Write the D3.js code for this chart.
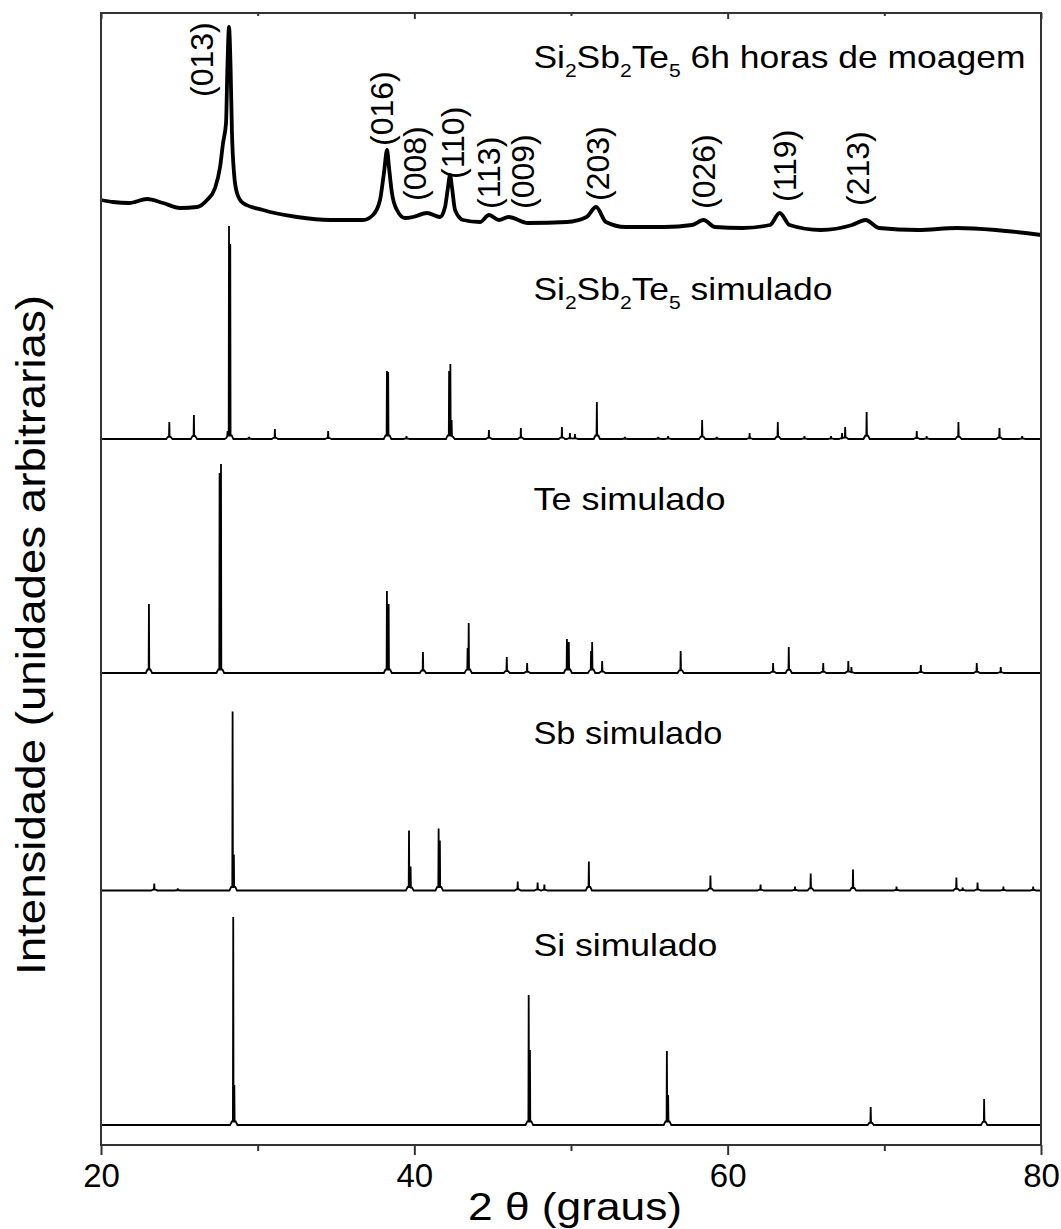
<!DOCTYPE html>
<html><head><meta charset="utf-8">
<script src="https://cdn.jsdelivr.net/npm/d3@7"></script>
<style>
body{margin:0;background:#fff}
svg{display:block}
text{font-family:"Liberation Sans",Arial,Helvetica,sans-serif;fill:#000}
</style>
</head><body>
<svg id="c" width="1061" height="1229"></svg>
<script>
// ---------------- DATA ----------------
const xTicksMajor = [20, 40, 60, 80];
const xTicksMinor = [30, 50, 70];
const xTitle = "2 \u03b8 (graus)";
const yTitle = "Intensidade (unidades arbitrarias)";

// vertical offsets of each pattern (arbitrary units)
const seriesNames = ["exp", "sstSim", "teSim", "sbSim", "siSim"];
const seriesOffsets = [87.9, 68.6, 45.2, 23.45, 0];

// experimental pattern: [2theta, intensity]
const expData = [
  [20.00,4.6],[20.77,4.4],[21.80,4.3],[22.94,4.7],[23.96,4.3],[25.04,3.8],[26.13,3.9],
  [26.77,4.6],[27.28,5.8],[27.60,7.9],[27.79,10.3],[27.98,12.3],[28.07,17.9],[28.17,21.9],
  [28.27,17.9],[28.36,11.3],[28.49,7.3],[28.68,5.3],[29.06,4.3],[30.34,3.6],[32.51,2.9],
  [34.62,2.6],[36.72,2.6],[37.36,3.1],[37.81,4.6],[38.06,7.3],[38.26,9.6],[38.38,7.9],
  [38.57,5.3],[38.89,3.6],[39.40,2.8],[39.91,2.9],[40.81,3.3],[41.64,2.9],[41.96,3.9],
  [42.15,5.9],[42.28,7.1],[42.40,5.9],[42.60,3.6],[43.11,2.6],[44.19,2.4],[44.77,3.1],
  [45.40,2.6],[46.01,2.9],[47.26,2.3],[49.74,2.4],[50.99,2.9],[51.60,3.9],[52.23,2.4],
  [53.49,1.9],[55.97,1.9],[57.72,2.1],[58.46,2.6],[59.19,1.9],[60.95,1.8],[62.70,2.1],
  [63.32,3.3],[63.95,2.1],[65.94,1.6],[67.94,2.1],[68.80,2.6],[69.66,1.8],[72.15,1.6],
  [74.64,1.8],[77.13,1.6],[80.00,1.1]
];

// simulated patterns: peaks [2theta, height]
const sstSimPeaks = [
  [24.36,1.7],[25.93,2.4],[28.08,0.8],[28.17,21.3],[28.25,19.5],[29.45,0.2],[31.10,1.0],
  [34.50,0.8],[38.25,6.8],[38.33,6.7],[39.50,0.3],[42.22,6.8],[42.30,7.5],[42.38,1.9],
  [44.76,0.9],[46.80,1.1],[49.42,1.2],[49.93,0.6],[50.25,0.5],[51.65,3.7],[53.44,0.2],
  [55.57,0.2],[56.20,0.3],[58.37,1.9],[59.30,0.2],[61.40,0.6],[63.20,1.7],[64.90,0.3],
  [66.60,0.3],[67.30,0.6],[67.50,1.2],[68.87,2.7],[72.07,0.8],[72.70,0.3],[74.73,1.7],
  [77.35,1.1],[78.80,0.3]
];
const teSimPeaks = [
  [23.06,6.9],[27.57,20.0],[27.66,20.9],[38.25,8.2],[38.36,6.9],[40.55,2.1],[43.40,2.5],
  [43.47,5.0],[45.90,1.6],[47.20,1.0],[49.74,3.4],[49.86,3.1],[51.28,2.2],[51.35,3.1],
  [51.99,1.2],[57.00,2.2],[62.90,1.0],[63.90,2.6],[66.10,1.0],[67.70,1.2],[67.90,0.6],
  [72.33,0.8],[75.90,1.0],[77.43,0.6]
];
const sbSimPeaks = [
  [23.40,0.7],[24.90,0.2],[28.40,17.9],[28.48,3.6],[39.66,6.0],[39.76,2.4],[41.55,6.2],
  [41.63,5.0],[46.60,0.9],[47.87,0.8],[48.30,0.6],[51.14,2.9],[58.90,1.5],[62.10,0.6],
  [64.30,0.4],[65.30,1.7],[68.00,2.1],[70.78,0.4],[74.60,1.3],[75.00,0.3],[75.95,0.8],
  [77.60,0.4],[79.50,0.4]
];
const siSimPeaks = [
  [28.44,20.8],[28.51,4.0],[47.30,13.0],[47.38,7.5],[56.12,7.4],[56.20,3.0],[69.13,1.8],
  [76.37,2.6]
];

// series captions: segments [text, isSubscript]
const seriesLabels = [
  [["Si",0],["2",1],["Sb",0],["2",1],["Te",0],["5",1],[" 6h horas de moagem",0]],
  [["Si",0],["2",1],["Sb",0],["2",1],["Te",0],["5",1],[" simulado",0]],
  [["Te simulado",0]],
  [["Sb simulado",0]],
  [["Si simulado",0]]
];
const seriesLabelX = [47.6, 47.6, 47.6, 47.6, 47.6];
const seriesLabelY = [105.7, 82.5, 61.5, 38.1, 16.9];
const seriesLabelLen = [492, 299, 192, 189, 184];

// Miller indices of the experimental peaks
const hklLabels = ["(013)","(016)","(008)","(110)","(113)","(009)","(203)","(026)","(119)","(213)"];
const hklX = [26.45, 37.94, 40.04, 42.47, 44.77, 46.90, 51.72, 58.49, 63.66, 68.32];
const hklY = [102.8, 97.9, 92.4, 94.6, 91.6, 91.6, 92.4, 91.6, 92.3, 91.9];

// ---------------- CHART ----------------
const svg = d3.select("#c");
const x = d3.scaleLinear().domain([20, 80]).range([101, 1041]);
const y = d3.scaleLinear().domain([-2, 111.2]).range([1145, 13]);

// peak profile (narrow stick with a small foot)
function shapeVal(dx, h) {
  const f = Math.min(0.35, 0.12 * h);
  const pts = [[-0.2,0],[-0.09,f],[-0.02,f],[0,h],[0.02,f],[0.09,f],[0.2,0]];
  if (dx <= -0.2 || dx >= 0.2) return 0;
  for (let i = 0; i < pts.length - 1; i++) {
    if (dx >= pts[i][0] && dx <= pts[i+1][0]) {
      const t = (dx - pts[i][0]) / (pts[i+1][0] - pts[i][0]);
      return pts[i][1] + t * (pts[i+1][1] - pts[i][1]);
    }
  }
  return 0;
}
function profile(peaks) {
  const offs = [-0.2,-0.09,-0.02,0,0.02,0.09,0.2];
  let xs = [20, 80];
  peaks.forEach(p => offs.forEach(o => xs.push(+(p[0] + o).toFixed(4))));
  xs = Array.from(new Set(xs)).filter(v => v >= 20 && v <= 80).sort((a,b)=>a-b);
  return xs.map(xx => [xx, d3.max(peaks, p => shapeVal(xx - p[0], p[1]))]);
}

const plot = svg.append("g");
const mk = off => d3.line().x(d => x(d[0])).y(d => y(off + d[1]));

plot.append("path").datum(expData)
  .attr("d", mk(seriesOffsets[0]).curve(d3.curveMonotoneX))
  .attr("fill","none").attr("stroke","#000").attr("stroke-width",3.8)
  .attr("stroke-linejoin","round");

[sstSimPeaks, teSimPeaks, sbSimPeaks, siSimPeaks].forEach((pk, i) => {
  plot.append("path").datum(profile(pk))
    .attr("d", mk(seriesOffsets[i+1]))
    .attr("fill","none").attr("stroke","#000").attr("stroke-width",1.8)
    .attr("stroke-linejoin","miter");
});

// frame
svg.append("rect").attr("x", x(20)).attr("y", y(111.2))
  .attr("width", x(80) - x(20)).attr("height", y(-2) - y(111.2))
  .attr("fill","none").attr("stroke","#333").attr("stroke-width",2);

// bottom axis
const gB = svg.append("g").attr("transform", `translate(0,${y(-2)})`);
gB.call(d3.axisBottom(x).tickValues(xTicksMajor).tickSize(10).tickPadding(9).tickFormat(d3.format("d")));
const gBm = svg.append("g").attr("transform", `translate(0,${y(-2)})`);
gBm.call(d3.axisBottom(x).tickValues(xTicksMinor).tickSize(6).tickFormat(""));
// top axis (inward ticks)
const gT = svg.append("g").attr("transform", `translate(0,${y(111.2)})`);
gT.call(d3.axisTop(x).tickValues(xTicksMajor).tickSize(-6).tickFormat(""));
const gTm = svg.append("g").attr("transform", `translate(0,${y(111.2)})`);
gTm.call(d3.axisTop(x).tickValues(xTicksMinor).tickSize(-3).tickFormat(""));
[gB, gBm, gT, gTm].forEach(g => {
  g.select(".domain").remove();
  g.selectAll("line").attr("stroke","#333").attr("stroke-width",2);
  g.selectAll("text").attr("font-size",33).attr("fill","#000")
    .attr("font-family",'"Liberation Sans",Arial,sans-serif');
});

// axis titles
svg.append("text").attr("x", 575).attr("y", 1220)
  .attr("text-anchor","middle").attr("font-size",38)
  .attr("textLength",214).attr("lengthAdjust","spacingAndGlyphs")
  .text(xTitle);
svg.append("text").attr("transform","translate(45,635) rotate(-90)")
  .attr("text-anchor","middle").attr("font-size",40)
  .attr("textLength",680).attr("lengthAdjust","spacingAndGlyphs")
  .text(yTitle);

// series captions
seriesLabels.forEach((segs, i) => {
  const t = svg.append("text").attr("x", x(seriesLabelX[i])).attr("y", y(seriesLabelY[i]))
    .attr("font-size", 32)
    .attr("textLength", seriesLabelLen[i]).attr("lengthAdjust","spacingAndGlyphs");
  let shifted = false;
  segs.forEach(s => {
    const ts = t.append("tspan").text(s[0]);
    if (s[1]) { ts.attr("font-size",19).attr("dy", 9); shifted = true; }
    else if (shifted) { ts.attr("dy", -9); shifted = false; }
  });
});

// hkl labels
hklLabels.forEach((lab, i) => {
  svg.append("text")
    .attr("transform", `translate(${x(hklX[i])},${y(hklY[i])}) rotate(-90)`)
    .attr("dy","0.35em").attr("font-size",32).attr("text-anchor","start")
    .text(lab);
});
</script>
</body></html>
